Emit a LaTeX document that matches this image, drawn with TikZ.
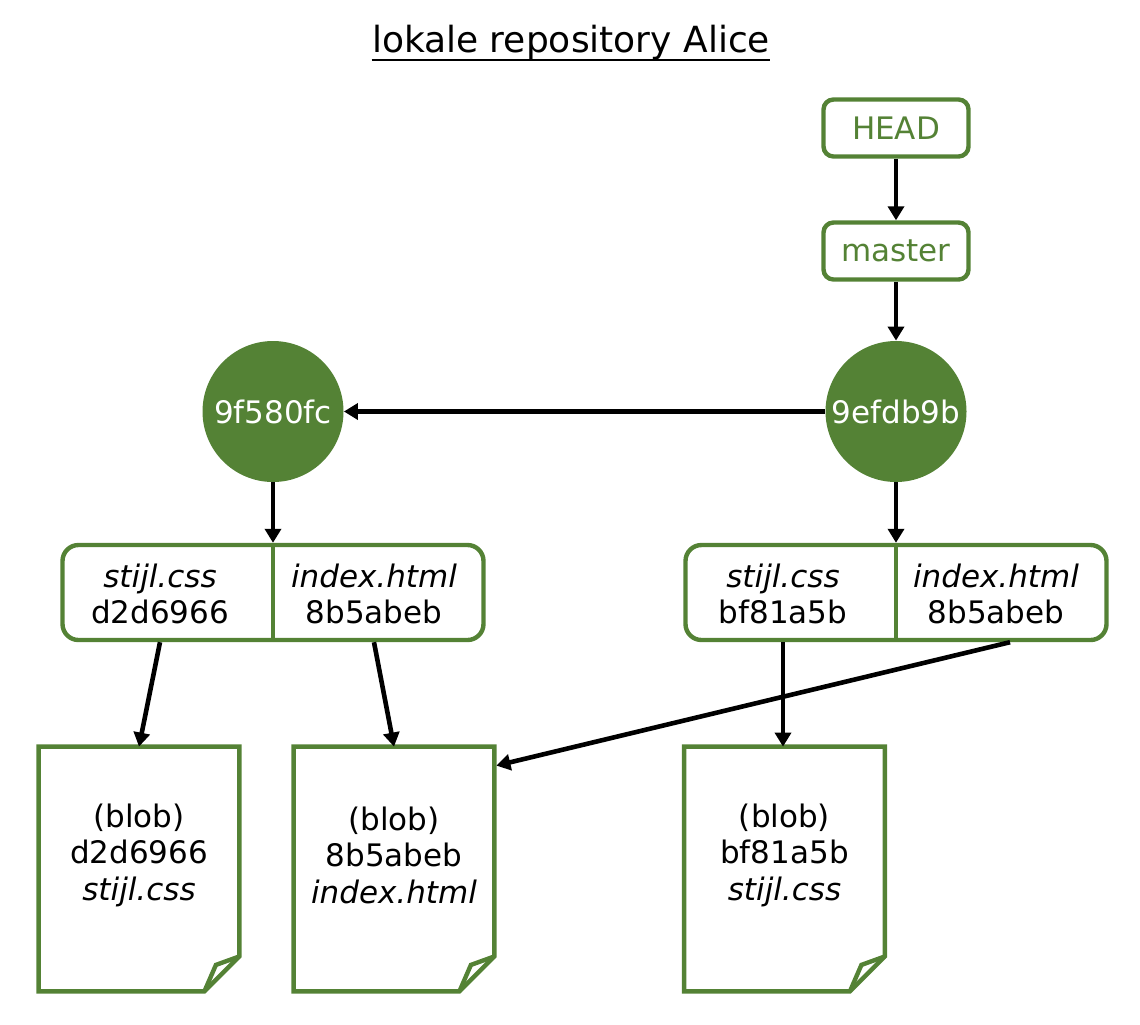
\documentclass[tikz,border=0pt]{standalone}
\usepackage{fontspec}
\setmainfont{DejaVu Sans}
\usepackage{xcolor}
\usetikzlibrary{%
	arrows.meta,%
	positioning,%
	calc
}
\definecolor{gitgreen}{RGB}{84,130,53}

\tikzset{
	ref/.style={rectangle,rounded corners=5pt,draw=gitgreen,line width=2.2pt,text=gitgreen,minimum width=72.5pt,minimum height=28.5pt,inner sep=0pt},
	commit/.style={circle,fill=gitgreen,text=white,minimum size=70.5pt,inner sep=0pt},
	tree/.style={rectangle,rounded corners=8pt,draw=gitgreen,line width=2.2pt,minimum width=210.5pt,minimum height=47.5pt,inner sep=0pt},
	cell/.style={align=center,inner sep=0pt},
	blob/.style={rectangle,minimum width=100pt,minimum height=122pt,inner sep=0pt},
	doc/.style={draw=gitgreen,line width=2.2pt},
	pointer/.style={-{Triangle[length=7pt,width=8pt]},line width=2.3pt},
}

\begin{document}
\begin{tikzpicture}[x=0.5pt,y=-0.5pt,font=\fontsize{15.5pt}{18pt}\selectfont]
	\useasboundingbox (0,0) rectangle (1140,1024);
	\node[font=\fontsize{18pt}{21pt}\selectfont,inner sep=0pt,anchor=base] (title) at (571,52) {lokale repository Alice};
	\draw[line width=1.1pt] ([yshift=-3.8pt]title.base west) -- ([yshift=-3.8pt]title.base east);

	% refs and commits
	\node[ref] (head) at (896,128) {HEAD};
	\node[ref] (master) at (896,251) {master};
	\node[commit] (c1) at (273,411.5) {9f580fc};
	\node[commit] (c2) at (896,411.5) {9efdb9b};

	% trees
	\node[tree] (treeA) at (273,592.5) {};
	\node[tree] (treeB) at (896,592.5) {};
	\draw[doc] (treeA.north) -- (treeA.south);
	\draw[doc] (treeB.north) -- (treeB.south);
	\node[cell] (cellA1) at (160,594) {\textit{stijl.css}\\d2d6966};
	\node[cell] (cellA2) at (374,594) {\textit{index.html}\\8b5abeb};
	\node[cell] (cellB1) at (783,594) {\textit{stijl.css}\\bf81a5b};
	\node[cell] (cellB2) at (996,594) {\textit{index.html}\\8b5abeb};

	% blobs
	\node[blob] (blobA) at (139,869) {};
	\node[blob] (blobB) at (394,869) {};
	\node[blob] (blobC) at (784.5,869) {};
	\foreach \b in {blobA,blobB,blobC}
	{\draw[doc] (\b.north west) -- (\b.north east) -- ([yshift=17.5pt]\b.south east)
			-- ([xshift=-17.5pt]\b.south east) -- (\b.south west) -- cycle;
		\draw[doc] ([yshift=17.5pt]\b.south east) -- ([xshift=-11.75pt,yshift=13.25pt]\b.south east)
			-- ([xshift=-17.5pt]\b.south east);}
	\node[cell,font=\fontsize{15.5pt}{18.25pt}\selectfont] at ([yshift=7pt]blobA.center) {(blob)\\d2d6966\\\textit{stijl.css}};
	\node[cell,font=\fontsize{15.5pt}{18.25pt}\selectfont] at ([yshift=7pt]blobB.center) {(blob)\\8b5abeb\\\textit{index.html}};
	\node[cell,font=\fontsize{15.5pt}{18.25pt}\selectfont] at ([yshift=7pt]blobC.center) {(blob)\\bf81a5b\\\textit{stijl.css}};

	% pointers
	\draw[pointer] (head) -- (master);
	\draw[pointer] (master) -- (c2);
	\draw[pointer] (c2) -- (c1);
	\draw[pointer] (c1) -- (treeA.north);
	\draw[pointer] (c2) -- (treeB.north);
	\draw[pointer] (cellA1 |- treeA.south) -- (blobA.north);
	\draw[pointer] (cellA2 |- treeA.south) -- (blobB.north);
	\draw[pointer] (cellB1 |- treeB.south) -- (cellB1 |- blobC.north);
	\coordinate (fromB2) at ([xshift=7pt]cellB2 |- treeB.south);
	\draw[pointer] (fromB2) -- ([xshift=1pt,yshift=-9.5pt]blobB.north east);
\end{tikzpicture}
\end{document}
